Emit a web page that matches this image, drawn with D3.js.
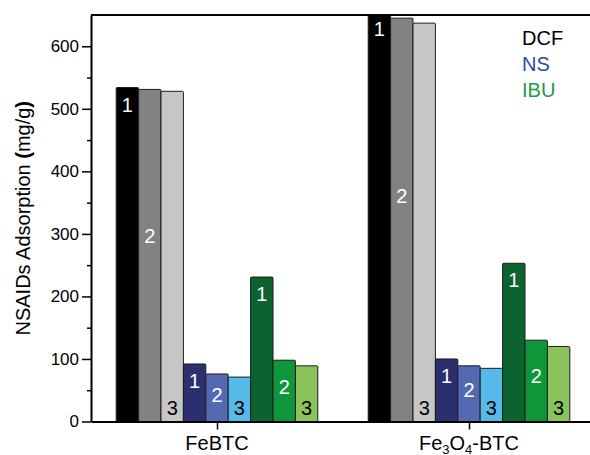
<!DOCTYPE html>
<html>
<head>
<meta charset="utf-8">
<script src="https://cdn.jsdelivr.net/npm/d3@7"></script>
<style>
  body { margin: 0; background: #fff; }
  text { font-family: "Liberation Sans", Arial, sans-serif; }
</style>
</head>
<body>
<svg></svg>
<script>
// chart data
const categories = ['FeBTC', 'Fe3O4-BTC']
const drugs = ['DCF', 'NS', 'IBU']
const runs = ['1', '2', '3']
// values per category, runs 1..3
const dcfValues = [[534, 531, 528], [655, 645, 637]]
const nsValues = [[92, 76, 71], [100, 89, 85]]
const ibuValues = [[231, 98, 89], [253, 130, 120]]
const yTicks = [0, 100, 200, 300, 400, 500, 600]
const yMinor = [50, 150, 250, 350, 450, 550]

// colours, one triple per drug
const barColors = {
    DCF: ['#000000', '#828282', '#c6c6c6'],
    NS: ['#2b2f6f', '#5469b1', '#56b9e9'],
    IBU: ['#0b6330', '#0f963b', '#8ac35b']
}
const legendColors = { DCF: '#000000', NS: '#2a4b9e', IBU: '#1f9a46' }
const labelColors = ['#ffffff', '#ffffff', '#000000']

let width = 590
let height = 455
let plotLeft = 91
let plotTop = 15
let plotBottom = 421.5

let svg = d3.select('svg').attr('width', width).attr('height', height)

// x as numeric category position, y as mg/g
let xScale = d3.scaleLinear().domain([0.5, 2.5]).range([plotLeft, plotLeft + 504])
let yScale = d3.scaleLinear().domain([0, 650]).range([plotBottom, plotTop])

// flatten into bar records
let bars = []
let seriesByDrug = { DCF: dcfValues, NS: nsValues, IBU: ibuValues }
let barW = 0.8 / 9
categories.forEach((cat, ci) => {
    drugs.forEach((drug, di) => {
        runs.forEach((run, ri) => {
            let slot = di * 3 + ri
            bars.push({
                cat: cat,
                drug: drug,
                run: run,
                ri: ri,
                value: seriesByDrug[drug][ci][ri],
                x0: (ci + 1) - 0.4 + slot * barW,
                color: barColors[drug][ri]
            })
        })
    })
})

// clip so bars taller than the axis stop at the frame
svg.append('clipPath').attr('id', 'plotclip')
    .append('rect')
    .attr('x', plotLeft).attr('y', plotTop)
    .attr('width', width - plotLeft).attr('height', plotBottom - plotTop)

let barG = svg.append('g').attr('clip-path', 'url(#plotclip)')
barG.selectAll('rect')
    .data(bars)
    .enter()
    .append('rect')
    .attr('x', d => xScale(d.x0))
    .attr('width', d => xScale(d.x0 + barW) - xScale(d.x0))
    .attr('y', d => yScale(d.value))
    .attr('height', d => yScale(0) - yScale(d.value))
    .attr('rx', 1)
    .attr('fill', d => d.color)
    .attr('stroke', '#1c1c1c')
    .attr('stroke-width', 1)

// run numbers inside bars: 1 near top, 2 around middle, 3 near the base
barG.selectAll('text.run')
    .data(bars)
    .enter()
    .append('text')
    .attr('class', 'run')
    .attr('x', d => xScale(d.x0 + barW / 2))
    .attr('y', d => {
        if (d.ri === 0) return yScale(d.value) + 24
        if (d.ri === 1) return yScale(d.value * 0.56) + 7
        return yScale(0) - 7
    })
    .attr('text-anchor', 'middle')
    .attr('font-size', 20)
    .attr('fill', d => labelColors[d.ri])
    .text(d => d.run)

// y axis with minor ticks
let yMinorAxis = d3.axisLeft(yScale).tickValues(yMinor).tickSize(4).tickSizeOuter(0).tickFormat('')
let yMinorG = svg.append('g').attr('transform', 'translate(' + plotLeft + ',0)').call(yMinorAxis)
yMinorG.select('.domain').remove()

let yAxis = d3.axisLeft(yScale).tickValues(yTicks).tickSize(9).tickSizeOuter(0).tickPadding(3)
let yG = svg.append('g').attr('transform', 'translate(' + plotLeft + ',0)').call(yAxis)
yG.selectAll('text').attr('font-size', 17).attr('fill', '#000').style('font-family', '"Liberation Sans", Arial, sans-serif')

// x axis
let xAxis = d3.axisBottom(xScale).tickValues([1, 2]).tickSize(8).tickSizeOuter(0).tickFormat('')
let xG = svg.append('g').attr('transform', 'translate(0,' + plotBottom + ')').call(xAxis)

svg.selectAll('.domain').attr('stroke', '#000').attr('stroke-width', 2)
svg.selectAll('.tick line').attr('stroke', '#000').attr('stroke-width', 1.5)

// top frame line
svg.append('line')
    .attr('x1', plotLeft).attr('x2', xScale(2.5))
    .attr('y1', plotTop).attr('y2', plotTop)
    .attr('stroke', '#000').attr('stroke-width', 2)

// category labels, digits set as subscripts
categories.forEach((cat, ci) => {
    let t = svg.append('text')
        .attr('x', xScale(ci + 1))
        .attr('y', 450)
        .attr('text-anchor', 'middle')
        .attr('font-size', 20)
    let parts = cat.match(/\d+|\D+/g)
    let sub = false
    parts.forEach(p => {
        let isNum = /^\d+$/.test(p)
        let span = t.append('tspan').text(p)
        if (isNum) {
            span.attr('font-size', 13).attr('dy', sub ? 0 : 4)
            sub = true
        } else if (sub) {
            span.attr('dy', -4)
            sub = false
        }
    })
})

// y title
let yt = svg.append('text')
    .attr('transform', 'translate(30,' + ((plotTop + plotBottom) / 2) + ') rotate(-90)')
    .attr('text-anchor', 'middle')
    .attr('font-size', 20)
yt.append('tspan').text('NSAIDs Adsorption ')
yt.append('tspan').attr('font-weight', 'bold').text('(')
yt.append('tspan').text('mg/g')
yt.append('tspan').attr('font-weight', 'bold').text(')')

// legend text
svg.selectAll('text.legend')
    .data(drugs)
    .enter()
    .append('text')
    .attr('class', 'legend')
    .attr('x', 522)
    .attr('y', (d, i) => 45 + i * 26)
    .attr('font-size', 20)
    .attr('fill', d => legendColors[d])
    .text(d => d)
</script>
</body>
</html>
